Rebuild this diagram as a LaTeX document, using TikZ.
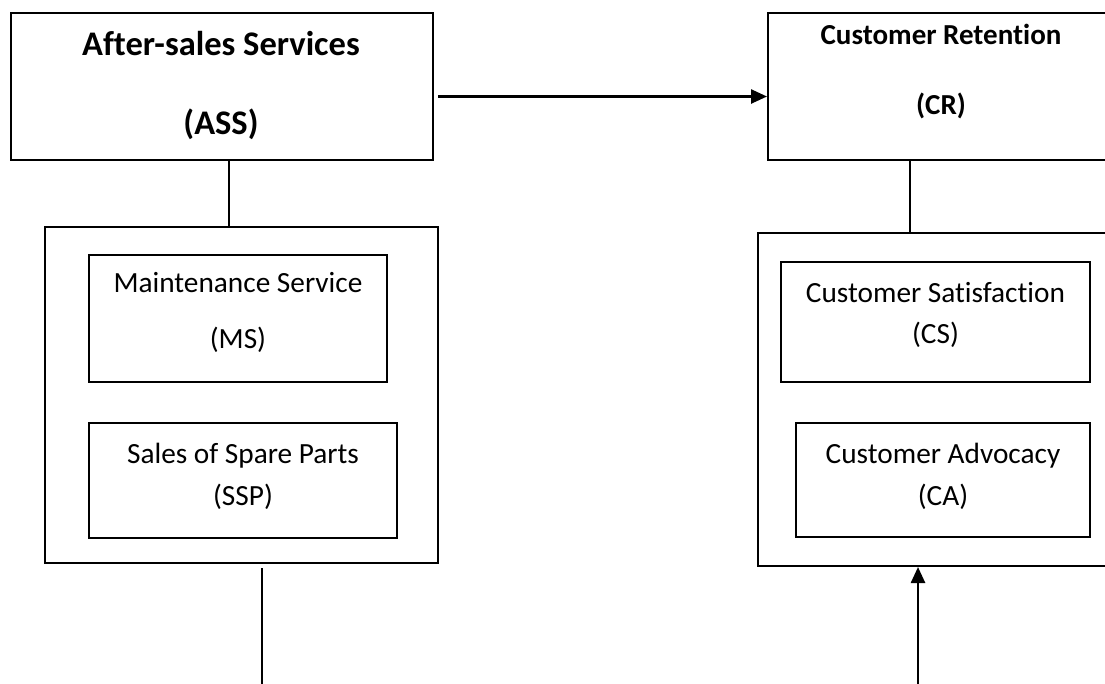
\documentclass[tikz,border=0pt]{standalone}
\usepackage{fontspec}
\setmainfont{Carlito}[Ligatures=NoCommon]
\usetikzlibrary{arrows.meta}

\tikzset{
  box/.style={draw=black, line width=2pt, inner sep=0pt},
  txt/.style={align=center, font=\fontsize{29.3}{35.5}\selectfont},
  head/.style={align=center, font=\bfseries\fontsize{34.5}{42}\selectfont},
  link/.style={black, line width=1.8pt},
  flow/.style={black, line width=2.5pt, -{Triangle[length=16pt,width=14pt]}}
}

\begin{document}
\begin{tikzpicture}[x=1pt, y=-1pt]
\clip (0,0) rectangle (1105,683);

% top boxes
\node [box, minimum width=422pt, minimum height=147pt] (ass) at (222,86.5) {};
\node [head] (asstext) at (221,86) {After-sales Services\\[37pt](ASS)};
\node [box, minimum width=346pt, minimum height=147pt] (cr) at (941,86.5) {};
\node [head, font=\bfseries\fontsize{29}{35}\selectfont] (crtext) at (941,72) {Customer Retention\\[35pt](CR)};

% left group
\node [box, minimum width=393pt, minimum height=336pt] (assgroup) at (241.5,395) {};
\node [box, minimum width=298pt, minimum height=127pt] (ms) at (238,318.5) {};
\node [txt] (mstext) at (238,312.5) {Maintenance Service\\[20pt](MS)};
\node [box, minimum width=308pt, minimum height=115pt] (ssp) at (243,480.5) {};
\node [txt] (ssptext) at (243,476) {Sales of Spare Parts\\[6.5pt](SSP)};

% right group
\node [box, minimum width=354pt, minimum height=333pt] (crgroup) at (935,399.5) {};
\node [box, minimum width=309pt, minimum height=120pt] (cs) at (935.5,322) {};
\node [txt] (cstext) at (935.5,314.5) {Customer Satisfaction\\[5.5pt](CS)};
\node [box, minimum width=294pt, minimum height=114pt] (ca) at (943,480) {};
\node [txt] (catext) at (943,476) {Customer Advocacy\\[6.5pt](CA)};

% connectors
\draw [flow, shorten <=4pt] ([yshift=-10pt]ass.east) -- ([yshift=-10pt]ass.east -| cr.west);
\draw [link] ([xshift=7pt]ass.south) -- ([xshift=7pt]ass.south |- assgroup.north);
\draw [link] ([xshift=-31pt]cr.south) -- ([xshift=-31pt]cr.south |- crgroup.north);

\coordinate (assout) at (262,690);
\draw [link, shorten <=4pt] (assout |- assgroup.south) -- (assout);
\coordinate (crin) at (918,690);
\draw [flow] (crin) -- (crin |- crgroup.south);
\end{tikzpicture}
\end{document}
